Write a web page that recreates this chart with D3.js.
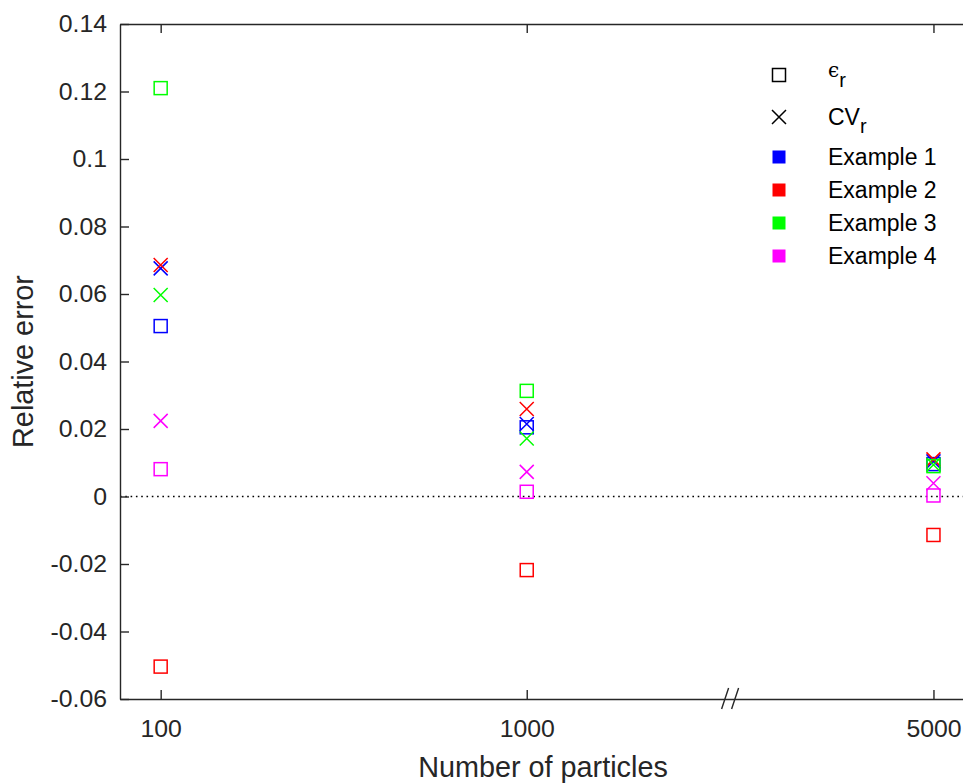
<!DOCTYPE html>
<html>
<head>
<meta charset="utf-8">
<script src="https://cdn.jsdelivr.net/npm/d3@7"></script>
<style>
  html, body { margin: 0; padding: 0; background: #fff; }
  svg { display: block; font-family: "Liberation Sans", Arial, Helvetica, sans-serif; }
</style>
</head>
<body>
<svg id="chart" width="963" height="783"></svg>
<script>
// ---- data ----
const particleLabels = ["100", "1000", "5000"];
const plotX = [100, 1000, 2000];          // axis position used for each particle count (broken axis)
const breakX = 1500;                      // position of the axis break "//"
const yTicks = [-0.06, -0.04, -0.02, 0, 0.02, 0.04, 0.06, 0.08, 0.1, 0.12, 0.14];
const yTickLabels = ["-0.06", "-0.04", "-0.02", "0", "0.02", "0.04", "0.06", "0.08", "0.1", "0.12", "0.14"];
const exampleNames = ["Example 1", "Example 2", "Example 3", "Example 4"];
const exampleColors = ["#0000ff", "#ff0000", "#00ff00", "#ff00ff"];
// relative error epsilon_r (squares)
const epsEx1 = [0.0505, 0.0205, 0.0096];
const epsEx2 = [-0.0504, -0.0218, -0.0114];
const epsEx3 = [0.1210, 0.0313, 0.0090];
const epsEx4 = [0.0081, 0.0014, 0.0003];
// CV_r (crosses)
const cvEx1 = [0.0676, 0.0215, 0.0104];
const cvEx2 = [0.0686, 0.0259, 0.0110];
const cvEx3 = [0.0597, 0.0172, 0.0094];
const cvEx4 = [0.0224, 0.0073, 0.0039];

const epsSeries = [epsEx1, epsEx2, epsEx3, epsEx4];
const cvSeries = [cvEx1, cvEx2, cvEx3, cvEx4];

// ---- layout ----
const svg = d3.select("#chart");
const axisColor = "#262626";
const mLeft = 120, mRight = 966, mTop = 24, mBottom = 699;

const x = d3.scaleLinear().domain([0, 2080]).range([mLeft, mRight]);
const y = d3.scaleLinear().domain([-0.06, 0.14]).range([mBottom, mTop]);

// zero dotted line
svg.append("line")
  .attr("x1", mLeft).attr("x2", mRight)
  .attr("y1", y(0)).attr("y2", y(0))
  .attr("stroke", "#000").attr("stroke-width", 1.6)
  .attr("stroke-dasharray", "1.6,3.7");

// axes
const xTickFmt = d => particleLabels[plotX.indexOf(d)];
const xAxisBottom = d3.axisBottom(x).tickValues(plotX).tickFormat(xTickFmt).tickSizeInner(-9).tickSizeOuter(0).tickPadding(20);
const xAxisTop = d3.axisTop(x).tickValues(plotX).tickFormat("").tickSizeInner(-9).tickSizeOuter(0);
const yAxisLeft = d3.axisLeft(y).tickValues(yTicks).tickFormat((d, i) => yTickLabels[i]).tickSizeInner(-9).tickSizeOuter(0).tickPadding(13);

function styleAxis(g) {
  g.select(".domain").attr("stroke", axisColor).attr("stroke-width", 1.4);
  g.selectAll(".tick line").attr("stroke", axisColor).attr("stroke-width", 1.4);
  g.selectAll(".tick text").attr("fill", axisColor).attr("font-size", 24.8)
    .attr("font-family", "\"Liberation Sans\", Arial, sans-serif");
}

svg.append("g").attr("transform", `translate(0,${mBottom})`).call(xAxisBottom).call(styleAxis);
svg.append("g").attr("transform", `translate(0,${mTop})`).call(xAxisTop).call(styleAxis);
svg.append("g").attr("transform", `translate(${mLeft},0)`).call(yAxisLeft).call(styleAxis);

// axis break marks
[-5, 5].forEach(off => {
  svg.append("line")
    .attr("x1", x(breakX) + off - 3.5).attr("y1", mBottom + 10)
    .attr("x2", x(breakX) + off + 3.5).attr("y2", mBottom - 11)
    .attr("stroke", axisColor).attr("stroke-width", 1.4);
});

// axis labels
svg.append("text")
  .attr("x", (mLeft + mRight) / 2).attr("y", 777)
  .attr("text-anchor", "middle").attr("font-size", 28.8).attr("fill", axisColor)
  .text("Number of particles");
svg.append("text")
  .attr("transform", `translate(33,${(mTop + mBottom) / 2}) rotate(-90)`)
  .attr("text-anchor", "middle").attr("font-size", 28.8).attr("fill", axisColor)
  .text("Relative error");

// markers
const sq = 13, cx = 7;
const marks = svg.append("g");
exampleNames.forEach((name, k) => {
  const col = exampleColors[k];
  epsSeries[k].forEach((v, i) => {
    marks.append("rect")
      .attr("x", x(plotX[i]) - sq / 2).attr("y", y(v) - sq / 2)
      .attr("width", sq).attr("height", sq)
      .attr("fill", "none").attr("stroke", col).attr("stroke-width", 1.5);
  });
  cvSeries[k].forEach((v, i) => {
    const px = x(plotX[i]), py = y(v);
    marks.append("path")
      .attr("d", `M${px - cx},${py - cx}L${px + cx},${py + cx}M${px - cx},${py + cx}L${px + cx},${py - cx}`)
      .attr("fill", "none").attr("stroke", col).attr("stroke-width", 1.5);
  });
});

// legend
const legX = 779, legTextX = 828;
const legRows = [75, 117, 157, 190, 223, 256];
const lg = svg.append("g");
lg.append("rect").attr("x", legX - 6.5).attr("y", legRows[0] - 6.5).attr("width", 13).attr("height", 13)
  .attr("fill", "none").attr("stroke", "#000").attr("stroke-width", 1.5);
lg.append("path")
  .attr("d", `M${legX - 7},${legRows[1] - 7}L${legX + 7},${legRows[1] + 7}M${legX - 7},${legRows[1] + 7}L${legX + 7},${legRows[1] - 7}`)
  .attr("stroke", "#000").attr("stroke-width", 1.5).attr("fill", "none");
const t0 = lg.append("text").attr("x", legTextX).attr("y", legRows[0] + 2).attr("font-size", 20).attr("fill", "#000");
t0.append("tspan").attr("font-family", "\"DejaVu Serif\", serif").text("ϵ");
t0.append("tspan").attr("dy", 10).attr("font-size", 20).text("r");
const t1 = lg.append("text").attr("x", legTextX).attr("y", legRows[1] + 8).attr("font-size", 23).attr("fill", "#000");
t1.append("tspan").text("CV");
t1.append("tspan").attr("dy", 8).attr("font-size", 20).text("r");
exampleNames.forEach((name, k) => {
  const yy = legRows[k + 2];
  lg.append("rect").attr("x", legX - 6.5).attr("y", yy - 6.5).attr("width", 13).attr("height", 13)
    .attr("fill", exampleColors[k]);
  lg.append("text").attr("x", legTextX).attr("y", yy + 8).attr("font-size", 23).attr("fill", "#000").text(name);
});
</script>
</body>
</html>
